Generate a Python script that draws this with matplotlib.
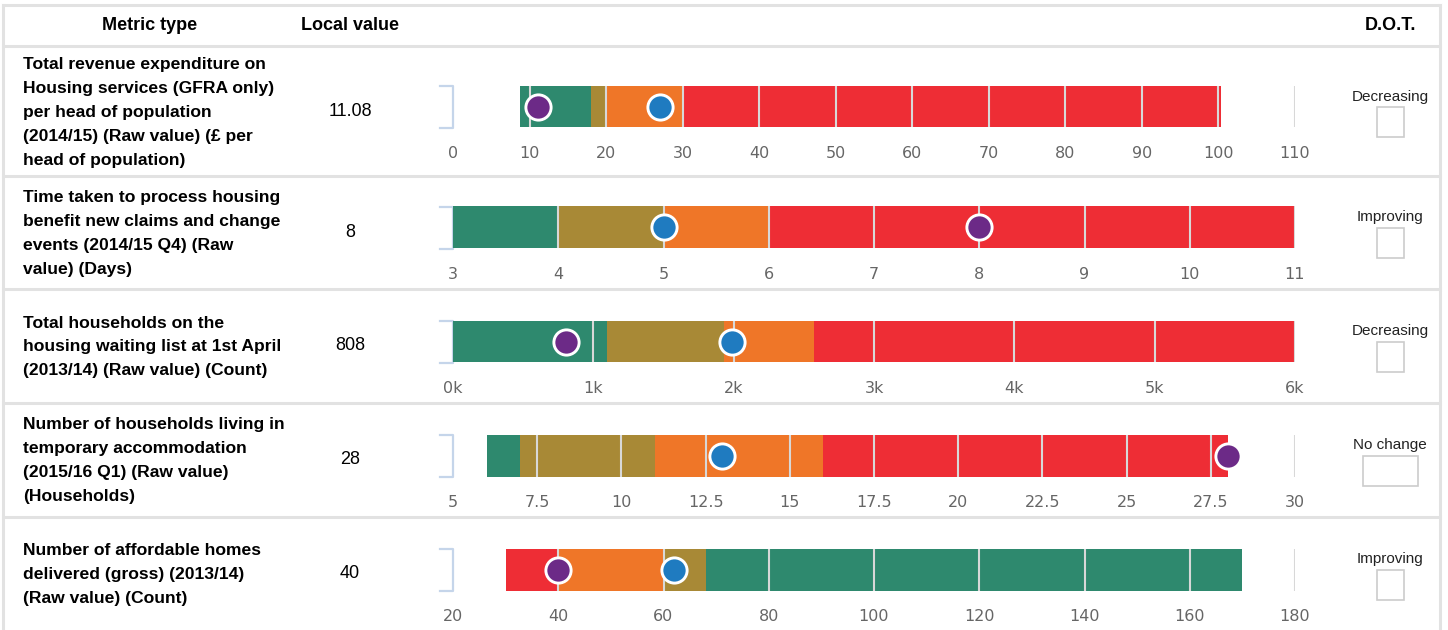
import numpy as np
import matplotlib
matplotlib.use("Agg")
from matplotlib import pyplot as plt

# ---- data ----
metrics = [
    "Total revenue expenditure on\nHousing services (GFRA only)\nper head of population\n(2014/15) (Raw value) (£ per\nhead of population)",
    "Time taken to process housing\nbenefit new claims and change\nevents (2014/15 Q4) (Raw\nvalue) (Days)",
    "Total households on the\nhousing waiting list at 1st April\n(2013/14) (Raw value) (Count)",
    "Number of households living in\ntemporary accommodation\n(2015/16 Q1) (Raw value)\n(Households)",
    "Number of affordable homes\ndelivered (gross) (2013/14)\n(Raw value) (Count)",
]
local_labels = ["11.08", "8", "808", "28", "40"]
dot_labels = ["Decreasing", "Improving", "Decreasing", "No change", "Improving"]

axis_ranges = [(0, 110), (3, 11), (0, 6000), (5, 30), (20, 180)]
tick_values = [
    list(range(0, 111, 10)),
    list(range(3, 12)),
    list(range(0, 6001, 1000)),
    [5, 7.5, 10, 12.5, 15, 17.5, 20, 22.5, 25, 27.5, 30],
    list(range(20, 181, 20)),
]
tick_labels = [
    [str(v) for v in range(0, 111, 10)],
    [str(v) for v in range(3, 12)],
    ["0k", "1k", "2k", "3k", "4k", "5k", "6k"],
    ["5", "7.5", "10", "12.5", "15", "17.5", "20", "22.5", "25", "27.5", "30"],
    [str(v) for v in range(20, 181, 20)],
]
band_edges = [
    [8.75, 18, 20, 30, 100.3],
    [3, 4, 5, 6, 11],
    [0, 1100, 1930, 2570, 6000],
    [6, 7, 11, 16, 28],
    [30, 40, 60, 68, 170],
]
band_names = [
    ["green", "olive", "orange", "red"],
    ["green", "olive", "orange", "red"],
    ["green", "olive", "orange", "red"],
    ["green", "olive", "orange", "red"],
    ["red", "orange", "olive", "green"],
]
local_values = [11.08, 8, 808, 28, 40]
compare_values = [27, 5, 1990, 13, 62]

palette = {"green": "#2e896e", "olive": "#a88936", "orange": "#ef7628", "red": "#ee2d35"}
PURPLE = "#6c2a87"
BLUE = "#1f7bc0"
LINE = "#e2e2e2"

W, H = 1448, 630
fig = plt.figure(figsize=(W / 100, H / 100), dpi=100)

# background axes in pixel coordinates for the table
bg = fig.add_axes([0, 0, 1, 1])
bg.set_xlim(0, W)
bg.set_ylim(H, 0)
bg.axis("off")

sans = ["Liberation Sans", "DejaVu Sans"]

# table lines
for y in [5, 46, 176, 289, 403, 517]:
    bg.plot([3, 1440], [y, y], color=LINE, lw=2.2)
bg.plot([3, 3], [5, H], color=LINE, lw=2.2)
bg.plot([1440, 1440], [5, H], color=LINE, lw=2.2)

# header
bg.text(150, 26, "Metric type", ha="center", va="center", fontsize=13, fontweight="bold", family=sans)
bg.text(350, 26, "Local value", ha="center", va="center", fontsize=13, fontweight="bold", family=sans)
bg.text(1390, 26, "D.O.T.", ha="center", va="center", fontsize=13, fontweight="bold", family=sans)

row_centers = [111, 232.5, 346, 460, 573.5]
bar_centers = [106.5, 227.5, 341.5, 455.5, 569.5]
bar_h = 42
x0, x1 = 453, 1295

for i in range(5):
    rc = row_centers[i]
    bc = bar_centers[i]
    bg.text(23, rc + 1, metrics[i], ha="left", va="center", fontsize=12.6, fontweight="bold",
            family=sans, linespacing=1.75)
    bg.text(350, rc, local_labels[i], ha="center", va="center", fontsize=13, family=sans)

    # direction of travel
    bg.text(1390, bc - 10, dot_labels[i], ha="center", va="center", fontsize=11,
            family=sans, color="#222222")
    bw = 55 if dot_labels[i] == "No change" else 27
    bg.add_patch(plt.Rectangle((1390.5 - bw / 2, bc), bw, 30, fill=False,
                               edgecolor="#cccccc", lw=1.2))

    # bracket at the start of each axis
    top, bot = bc - bar_h / 2, bc + bar_h / 2
    bg.plot([440, 453, 453, 440], [top, top, bot, bot], color="#c5d5ea", lw=1.6)

    # bullet axes
    ax = fig.add_axes([x0 / W, 1 - bot / H, (x1 - x0) / W, bar_h / H])
    lo, hi = axis_ranges[i]
    ax.set_xlim(lo, hi)
    ax.set_ylim(-0.5, 0.5)
    edges = band_edges[i]
    for j, name in enumerate(band_names[i]):
        ax.barh(0, edges[j + 1] - edges[j], left=edges[j], height=1.0,
                color=palette[name], zorder=1)
    ax.vlines(tick_values[i][1:], -0.5, 0.5, colors="#d8d8d8", lw=1.5, zorder=2)
    ax.scatter([compare_values[i]], [0], s=330, color=BLUE, edgecolors="white",
               linewidths=2.1, zorder=4, clip_on=False)
    ax.scatter([local_values[i]], [0], s=330, color=PURPLE, edgecolors="white",
               linewidths=2.1, zorder=5, clip_on=False)
    ax.set_xticks(tick_values[i])
    ax.set_xticklabels(tick_labels[i], fontsize=11.5, color="#666666", family="DejaVu Sans")
    ax.tick_params(axis="x", length=0, pad=13)
    ax.set_yticks([])
    for s in ax.spines.values():
        s.set_visible(False)
    ax.patch.set_alpha(0)

fig.savefig("out.png", dpi=100)
